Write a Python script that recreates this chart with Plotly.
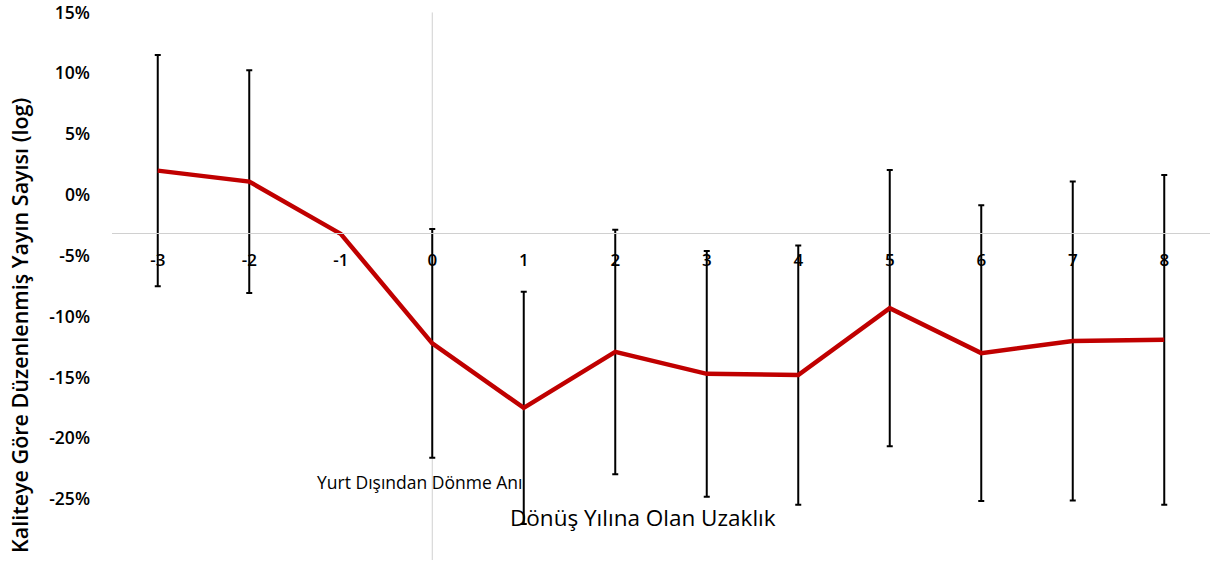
import plotly.graph_objects as go

years = [-3, -2, -1, 0, 1, 2, 3, 4, 5, 6, 7, 8]
tick_labels = ["-3", "-2", "-1", "0", "1", "2", "3", "4", "5", "6", "7", "8"]
effect = [2.0, 1.1, -3.2, -12.2, -17.5, -12.9, -14.7, -14.8, -9.3, -13.0, -12.0, -11.9]
ci = [9.5, 9.15, 0.0, 9.4, 9.55, 10.05, 10.1, 10.65, 11.35, 12.15, 13.1, 13.55]
y_ticks = [-25, -20, -15, -10, -5, 0, 5, 10, 15]
y_tick_text = ["-25%", "-20%", "-15%", "-10%", "-5%", "0%", "5%", "10%", "15%"]
axis_cross = -3.1
y_range = [-30, 15.2]

FONT = "Open Sans"
T, B = 10, 3
PH = 563 - T - B

fig = go.Figure()
fig.add_trace(go.Scatter(
    x=years, y=effect, mode="lines",
    line=dict(color="#C00000", width=4.5),
    error_y=dict(type="data", array=ci, visible=True, color="black", thickness=2, width=3),
    showlegend=False,
))

fig.add_shape(type="line", xref="x", yref="y", x0=0, x1=0, y0=y_range[0], y1=15,
              line=dict(color="#d0d0d0", width=1), layer="below")

fig.update_layout(
    width=1214, height=563,
    margin=dict(l=112, r=4, t=T, b=B, autoexpand=False),
    paper_bgcolor="white", plot_bgcolor="white",
    font=dict(family=FONT, color="black"),
    xaxis=dict(
        range=[-3.5, 8.5], tickvals=years, ticktext=tick_labels,
        showgrid=False, zeroline=False, showline=True, linecolor="#d0d0d0", linewidth=1,
        anchor="free", position=(axis_cross - y_range[0]) / (y_range[1] - y_range[0]),
        ticks="", ticklabelstandoff=12,
        tickfont=dict(size=17, family=FONT, weight=600),
    ),
    yaxis=dict(
        range=y_range, tickvals=y_ticks, ticktext=y_tick_text,
        showgrid=False, zeroline=False, showline=False, ticks="",
        ticklabelstandoff=21, ticklabeloverflow="allow", automargin=False,
        tickfont=dict(size=17.5, family=FONT, weight=600),
    ),
    annotations=[
        dict(text="Yurt Dışından Dönme Anı", xref="paper", yref="paper", x=(420 - 112) / 1098,
             y=(PH - (482 - T)) / PH, xanchor="center", yanchor="middle",
             showarrow=False, font=dict(size=17.5, family=FONT)),
        dict(text="Dönüş Yılına Olan Uzaklık", xref="paper", yref="paper", x=(643 - 112) / 1098,
             y=(PH - (517 - T)) / PH,
             xanchor="center", yanchor="middle", showarrow=False, font=dict(size=22.5, family=FONT)),
        dict(text="Kaliteye Göre Düzenlenmiş Yayın Sayısı (log)", xref="paper", yref="paper",
             x=(20 - 112) / 1098, y=(PH - (326 - T)) / PH, textangle=-90,
             xanchor="center", yanchor="middle",
             showarrow=False, font=dict(size=21.5, family=FONT, weight=600)),
    ],
)

fig.write_html("out.html")
